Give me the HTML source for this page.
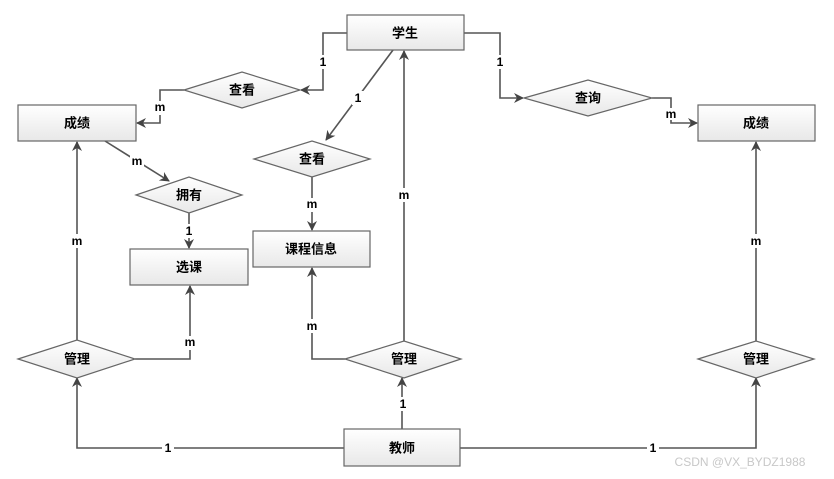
<!DOCTYPE html>
<html><head><meta charset="utf-8"><style>
html,body{margin:0;padding:0;background:#fff;width:834px;height:479px;overflow:hidden}
svg text{font-family:"Liberation Sans","Noto Sans CJK SC",sans-serif;font-weight:bold;fill:#000}
</style></head><body>
<svg width="834" height="479" viewBox="0 0 834 479" xmlns="http://www.w3.org/2000/svg">
<defs>
<linearGradient id="g" x1="0" y1="0" x2="0" y2="1"><stop offset="0" stop-color="#ffffff"/><stop offset="1" stop-color="#e8e8e8"/></linearGradient>
<marker id="a" markerWidth="10" markerHeight="10" refX="9" refY="5" orient="auto" markerUnits="userSpaceOnUse"><path d="M0,0 L10,5 L0,10 L3,5 z" fill="#444"/></marker>
</defs>
<g fill="none" stroke="#555" stroke-width="1.6">
<path d="M347,33 H323 V90 H301" marker-end="url(#a)"/>
<path d="M184,90 H160 V123 H137" marker-end="url(#a)"/>
<path d="M393,50 L326,140" marker-end="url(#a)"/>
<path d="M312,177 V230" marker-end="url(#a)"/>
<path d="M105,141 L169,181" marker-end="url(#a)"/>
<path d="M189,213 V248" marker-end="url(#a)"/>
<path d="M77,340 V142" marker-end="url(#a)"/>
<path d="M135,359 H190 V286" marker-end="url(#a)"/>
<path d="M344,448 H77 V378" marker-end="url(#a)"/>
<path d="M345,359 H312 V268" marker-end="url(#a)"/>
<path d="M404,341 V51" marker-end="url(#a)"/>
<path d="M402,429 V378" marker-end="url(#a)"/>
<path d="M460,448 H756 V378" marker-end="url(#a)"/>
<path d="M756,341 V142" marker-end="url(#a)"/>
<path d="M464,33 H500 V98 H523" marker-end="url(#a)"/>
<path d="M652,98 H671 V123 H697" marker-end="url(#a)"/>
</g>
<g fill="url(#g)" stroke="#666" stroke-width="1.2">
<rect x="347" y="15" width="117" height="35"/>
<rect x="18" y="105" width="118" height="36"/>
<rect x="698" y="105" width="117" height="36"/>
<rect x="253" y="231" width="117" height="36"/>
<rect x="130" y="249" width="118" height="36"/>
<rect x="344" y="429" width="116" height="37"/>
<polygon points="184,90 242,72 300,90 242,108"/>
<polygon points="524,98 588,80 652,98 588,116"/>
<polygon points="254,159 312,141 370,159 312,177"/>
<polygon points="136,195 189,177 242,195 189,213"/>
<polygon points="18,359 77,340 135,359 77,378"/>
<polygon points="345,359 404,341 461,359 404,378"/>
<polygon points="698,359 756,341 814,359 756,378"/>
</g>
<g font-size="13" text-anchor="middle" dominant-baseline="central">
<text x="405" y="33">学生</text>
<text x="77" y="123">成绩</text>
<text x="756" y="123">成绩</text>
<text x="311" y="249">课程信息</text>
<text x="189" y="267">选课</text>
<text x="402" y="448">教师</text>
<text x="242" y="90">查看</text>
<text x="588" y="98">查询</text>
<text x="312" y="159">查看</text>
<text x="189" y="195">拥有</text>
<text x="77" y="359">管理</text>
<text x="404" y="359">管理</text>
<text x="756" y="359">管理</text>
</g>
<g font-size="12" text-anchor="middle" dominant-baseline="central">
<rect x="318" y="55" width="10" height="14" fill="#fff"/><text x="323" y="62">1</text>
<rect x="154" y="101" width="12" height="14" fill="#fff"/><text x="160" y="107">m</text>
<rect x="352" y="91" width="12" height="14" fill="#fff"/><text x="358" y="98">1</text>
<rect x="305" y="198" width="14" height="14" fill="#fff"/><text x="312" y="204">m</text>
<rect x="130" y="155" width="14" height="14" fill="#fff"/><text x="137" y="161">m</text>
<rect x="184" y="224" width="10" height="14" fill="#fff"/><text x="189" y="231">1</text>
<rect x="70" y="234" width="14" height="14" fill="#fff"/><text x="77" y="241">m</text>
<rect x="183" y="336" width="14" height="14" fill="#fff"/><text x="190" y="342">m</text>
<rect x="162" y="441" width="12" height="14" fill="#fff"/><text x="168" y="448">1</text>
<rect x="305" y="319" width="14" height="14" fill="#fff"/><text x="312" y="326">m</text>
<rect x="397" y="188" width="14" height="14" fill="#fff"/><text x="404" y="195">m</text>
<rect x="397" y="397" width="12" height="14" fill="#fff"/><text x="403" y="404">1</text>
<rect x="647" y="441" width="12" height="14" fill="#fff"/><text x="653" y="448">1</text>
<rect x="749" y="234" width="14" height="14" fill="#fff"/><text x="756" y="241">m</text>
<rect x="495" y="55" width="10" height="14" fill="#fff"/><text x="500" y="62">1</text>
<rect x="664" y="108" width="14" height="12" fill="#fff"/><text x="671" y="114">m</text>
</g>
<text x="740" y="466" font-size="12" text-anchor="middle" style="font-weight:normal;fill:#c8c8c8">CSDN @VX_BYDZ1988</text>
</svg>
</body></html>
